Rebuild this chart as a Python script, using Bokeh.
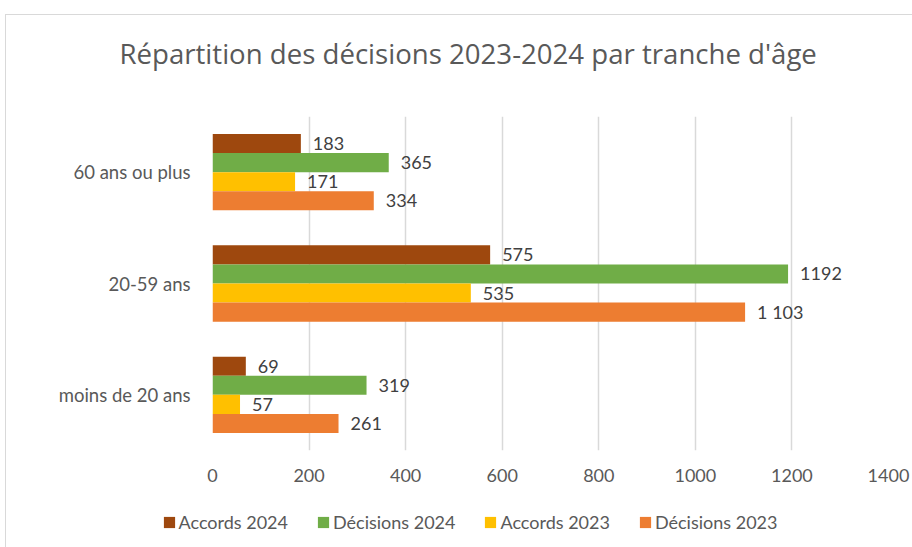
from bokeh.plotting import figure
from bokeh.layouts import column
from bokeh.models import (ColumnDataSource, FactorRange, Legend, LegendItem, Title,
                          FixedTicker, InlineStyleSheet)
from bokeh.transform import dodge
from bokeh.core.properties import value
from bokeh.embed import file_html
from bokeh.resources import INLINE

# ---- data ----
categories = ["moins de 20 ans", "20-59 ans", "60 ans ou plus"]
series_names = ["Accords 2024", "Décisions 2024", "Accords 2023", "Décisions 2023"]
accords_2024 = [69, 575, 183]
decisions_2024 = [319, 1192, 365]
accords_2023 = [57, 535, 171]
decisions_2023 = [261, 1103, 334]
labels_accords_2024 = ["69", "575", "183"]
labels_decisions_2024 = ["319", "1192", "365"]
labels_accords_2023 = ["57", "535", "171"]
labels_decisions_2023 = ["261", "1 103", "334"]
x_ticks = [0, 200, 400, 600, 800, 1000, 1200, 1400]
title_text = "Répartition des décisions 2023-2024 par tranche d'âge"

colors = ["#9E480E", "#70AD47", "#FFC000", "#ED7D31"]
FONT = "Lato"
TXT = "#595959"

series_values = [accords_2024, decisions_2024, accords_2023, decisions_2023]
series_labels = [labels_accords_2024, labels_decisions_2024, labels_accords_2023, labels_decisions_2023]

bar_h = 0.1714
offsets = [1.5 * bar_h, 0.5 * bar_h, -0.5 * bar_h, -1.5 * bar_h]

frame_css_top = InlineStyleSheet(css="""
:host::after {
  content: "";
  position: absolute;
  left: 5px; top: 14px; width: 920px; height: 600px;
  border-left: 1.5px solid #d9d9d9;
  border-top: 1.5px solid #d9d9d9;
  pointer-events: none;
}
""")
frame_css_bottom = InlineStyleSheet(css="""
:host::after {
  content: "";
  position: absolute;
  left: 5px; top: 0px; width: 10px; height: 100%;
  border-left: 1.5px solid #d9d9d9;
  pointer-events: none;
}
""")

p = figure(width=912, height=500, output_backend="svg", toolbar_location=None,
           y_range=FactorRange(*categories, range_padding=0, factor_padding=0),
           x_range=(0, 1400),
           min_border_left=212, min_border_right=24, min_border_top=116, min_border_bottom=50,
           stylesheets=[frame_css_top])
p.frame_align = False
p.background_fill_color = "white"
p.border_fill_color = "white"
p.outline_line_color = None

sources = []
for name, vals, labs, col, off in zip(series_names, series_values, series_labels, colors, offsets):
    src = ColumnDataSource(dict(cat=categories, v=vals, lab=labs))
    sources.append(src)
    p.hbar(y=dodge("cat", off, range=p.y_range), right="v", left=0, height=bar_h,
           source=src, fill_color=col, line_color=None)
    p.text(x="v", y=dodge("cat", off, range=p.y_range), text="lab", source=src,
           x_offset=12, text_baseline="middle", text_align="left",
           text_font=value(FONT), text_font_size="18px", text_color="#404040")

# grid
p.ygrid.grid_line_color = None
p.xgrid.grid_line_color = "#d9d9d9"
p.xgrid.grid_line_width = 1.5
p.xgrid.ticker = FixedTicker(ticks=x_ticks)

# x axis
p.xaxis.ticker = FixedTicker(ticks=x_ticks)
p.xaxis.axis_line_color = None
p.xaxis.major_tick_line_color = None
p.xaxis.minor_tick_line_color = None
p.xaxis.major_label_text_font = FONT
p.xaxis.major_label_text_font_size = "18px"
p.xaxis.major_label_text_color = TXT
p.xaxis.major_label_standoff = 12

# y axis
p.yaxis.axis_line_color = None
p.yaxis.major_tick_line_color = None
p.yaxis.minor_tick_line_color = None
p.yaxis.major_label_text_font = FONT
p.yaxis.major_label_text_font_size = "18.5px"
p.yaxis.major_label_text_color = TXT
p.yaxis.major_label_standoff = 16

# titles: a blank spacer next to the frame, then the real title above it
p.title.text = ""
p.add_layout(Title(text=" ", text_font_size="10px", standoff=31), "above")
p.add_layout(Title(text=title_text, align="left", offset=-93, vertical_align="middle",
                   standoff=0, text_font="Open Sans", text_font_size="27.6px",
                   text_font_style="normal", text_color=TXT), "above")

# legend strip below the chart
leg = figure(width=912, height=47, output_backend="svg", toolbar_location=None,
             x_range=(0, 1), y_range=(0, 1), min_border=0,
             x_axis_location=None, y_axis_location=None,
             stylesheets=[frame_css_bottom])
leg.frame_align = False
leg.grid.visible = False
leg.outline_line_color = None
leg.background_fill_color = "white"
leg.border_fill_color = "white"
items = []
for name, col, src in zip(series_names, colors, sources):
    proxy = leg.hbar(y=0, right="v", left=0, height=1, source=src,
                     fill_color=col, line_color=None, visible=False)
    items.append(LegendItem(label=name, renderers=[proxy]))

legend = Legend(items=items, orientation="horizontal", location=(161.5, 14),
                glyph_width=14, glyph_height=14, label_standoff=3, spacing=28,
                padding=0, margin=0, border_line_color=None, background_fill_alpha=0,
                label_text_font=FONT, label_text_font_size="18px", label_text_color=TXT)
leg.add_layout(legend, "center")

layout = column(p, leg, spacing=0)
open("out.html", "w").write(file_html(layout, INLINE))
